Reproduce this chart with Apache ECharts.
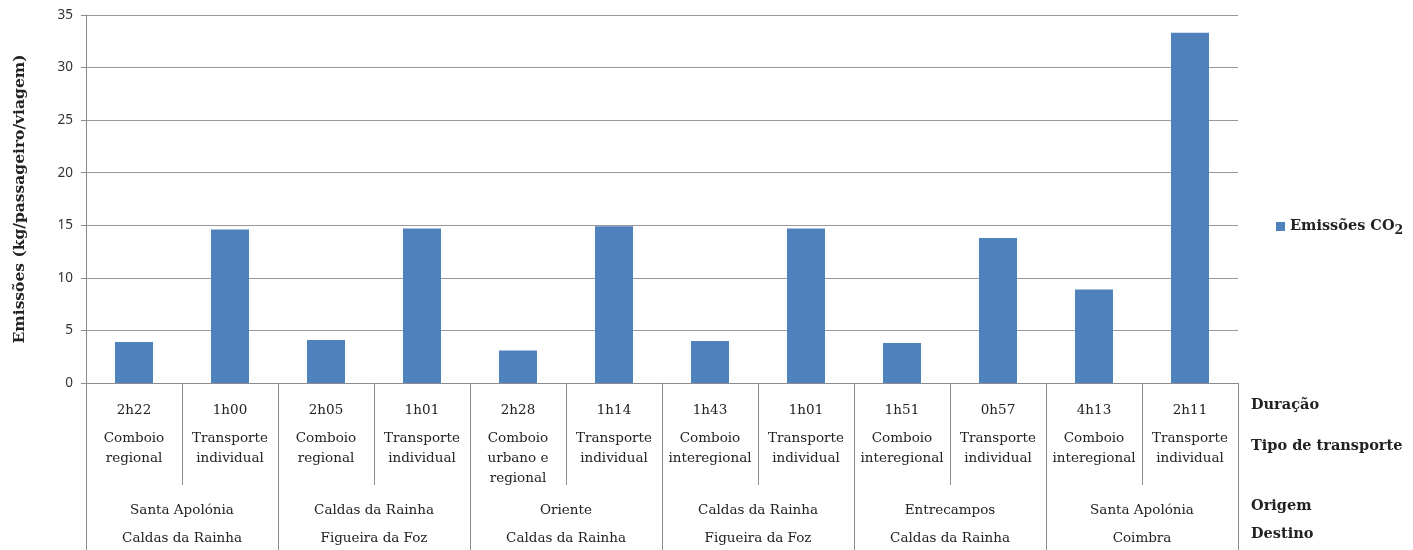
<!DOCTYPE html>
<html>
<head>
<meta charset="utf-8">
<script src="https://cdn.jsdelivr.net/npm/echarts@6/dist/echarts.min.js"></script>
<style>html,body{margin:0;padding:0;background:#fff;}#c{width:1413px;height:550px;}</style>
</head>
<body>
<div id="c"></div>
<script>
const durations = ['2h22','1h00','2h05','1h01','2h28','1h14','1h43','1h01','1h51','0h57','4h13','2h11'];
const transportTypes = ['Comboio\nregional','Transporte\nindividual','Comboio\nregional','Transporte\nindividual','Comboio\nurbano e\nregional','Transporte\nindividual','Comboio\ninteregional','Transporte\nindividual','Comboio\ninteregional','Transporte\nindividual','Comboio\ninteregional','Transporte\nindividual'];
const origins = ['Santa Apolónia','Caldas da Rainha','Oriente','Caldas da Rainha','Entrecampos','Santa Apolónia'];
const destinations = ['Caldas da Rainha','Figueira da Foz','Caldas da Rainha','Figueira da Foz','Caldas da Rainha','Coimbra'];
const emissions = [3.9, 14.6, 4.1, 14.7, 3.1, 14.9, 4.0, 14.7, 3.8, 13.8, 8.9, 33.3];
const rowLabels = ['Duração','Tipo de transporte','Origem','Destino'];
const yTicks = [0,5,10,15,20,25,30,35];

const serif = 'DejaVu Serif';
const lineGray = '#8c8c8c';
const txt = '#222';

function catAxis(data, margin, opts) {
  return Object.assign({
    type: 'category', data: data, gridIndex: 0, position: 'bottom', offset: 0,
    axisLine: {show: false}, axisTick: {show: false}, splitLine: {show: false},
    axisLabel: {interval: 0, margin: margin, fontFamily: serif, fontSize: 13.5, color: txt, lineHeight: 20}
  }, opts || {});
}

const chart = echarts.init(document.getElementById('c'));
chart.setOption({
  animation: false,
  backgroundColor: '#fff',
  grid: {left: 86, right: 175, top: 15, bottom: 167, containLabel: false},
  legend: {
    data: ['Emissões CO2'], left: 1271, top: 214, orient: 'vertical',
    icon: 'rect', itemWidth: 9, itemHeight: 9, itemGap: 4,
    formatter: function () { return '{a|Emissões CO}{b|2}'; },
    textStyle: {
      rich: {
        a: {fontFamily: serif, fontWeight: 'bold', fontSize: 14.5, color: txt, verticalAlign: 'middle'},
        b: {fontFamily: serif, fontWeight: 'bold', fontSize: 12.5, color: txt, padding: [8, 0, 0, 0]}
      }
    }
  },
  xAxis: [
    catAxis(durations, 17, {
      axisLine: {show: true, lineStyle: {color: lineGray, width: 1}},
      axisTick: {show: true, interval: 0, length: 102, lineStyle: {color: lineGray, width: 1}}
    }),
    catAxis(transportTypes, 45),
    catAxis(origins, 117, {
      axisTick: {show: true, interval: 0, length: 167, lineStyle: {color: lineGray, width: 1}}
    }),
    catAxis(destinations, 145)
  ],
  yAxis: {
    type: 'value', min: 0, max: 35, interval: 5,
    name: 'Emissões (kg/passageiro/viagem)', nameLocation: 'middle', nameGap: 58,
    nameTextStyle: {fontFamily: serif, fontWeight: 'bold', fontSize: 15.5, color: txt},
    axisLine: {show: true, lineStyle: {color: lineGray}},
    axisTick: {show: true, length: 5, lineStyle: {color: lineGray}},
    axisLabel: {fontFamily: 'Noto Sans', fontSize: 13.5, color: '#333', margin: 13,
      formatter: function (v) { return yTicks.indexOf(v) >= 0 ? String(v) : ''; }},
    splitLine: {show: true, lineStyle: {color: '#999', width: 1}}
  },
  series: [{
    name: 'Emissões CO2', type: 'bar', xAxisIndex: 0, data: emissions,
    barWidth: 38, itemStyle: {color: '#4F81BD'}
  }],
  graphic: [
    {type: 'text', left: 1251, top: 398, style: {text: rowLabels[0], font: 'bold 14.5px "DejaVu Serif"', fill: txt}},
    {type: 'text', left: 1251, top: 439, style: {text: rowLabels[1], font: 'bold 14.5px "DejaVu Serif"', fill: txt}},
    {type: 'text', left: 1251, top: 499, style: {text: rowLabels[2], font: 'bold 14.5px "DejaVu Serif"', fill: txt}},
    {type: 'text', left: 1251, top: 527, style: {text: rowLabels[3], font: 'bold 14.5px "DejaVu Serif"', fill: txt}}
  ]
});
</script>
</body>
</html>
